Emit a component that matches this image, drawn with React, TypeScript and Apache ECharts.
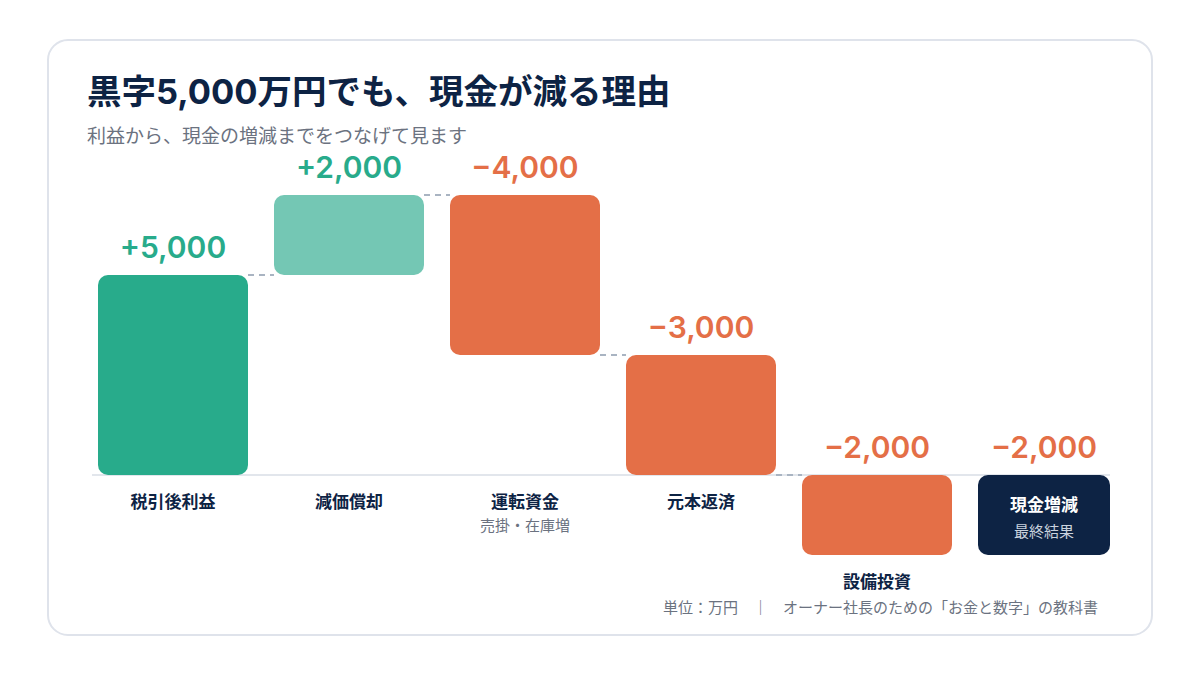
import React, { useEffect, useRef } from "react";
import * as echarts from "echarts";

const categories = ["税引後利益", "減価償却", "運転資金", "元本返済", "設備投資", "現金増減"];
const subLabels = ["", "", "売掛・在庫増", "", "", "最終結果"];
const deltas = [5000, 2000, -4000, -3000, -2000, -2000];
const isTotal = [false, false, false, false, false, true];
const valueLabels = ["+5,000", "+2,000", "−4,000", "−3,000", "−2,000", "−2,000"];

const NAVY = "#0D2344";
const FONT = "Inter, 'Noto Sans CJK JP', sans-serif";
const JP = "'Noto Sans CJK JP', Inter, sans-serif";

function buildRows() {
  const rows: number[][] = [];
  let cum = 0;
  deltas.forEach((d, i) => {
    if (isTotal[i]) {
      rows.push([i, 0, cum]);
    } else {
      rows.push([i, cum, cum + d]);
      cum += d;
    }
  });
  return rows;
}

function barColor(i: number) {
  if (isTotal[i]) return NAVY;
  if (deltas[i] < 0) return "#E46F47";
  return i === 0 ? "#28AB8B" : "#74C7B4";
}

export default function App() {
  const ref = useRef<HTMLDivElement>(null);
  useEffect(() => {
    if (!ref.current) return;
    const chart = echarts.init(ref.current, null, { renderer: "svg" });
    const rows = buildRows();
    const BW = 150;
    const TW = 132;
    const renderItem = (params: any, api: any) => {
      const i = params.dataIndex;
      const start = api.value(1);
      const end = api.value(2);
      const [cx, yStart] = api.coord([i, start]);
      const yEnd = api.coord([i, end])[1];
      const y0 = api.coord([i, 0])[1];
      const x = cx - BW / 2;
      const w = isTotal[i] ? TW : BW;
      const top = Math.min(yStart, yEnd);
      const bottom = Math.max(yStart, yEnd);
      const children: any[] = [];
      if (i === 0) {
        const xr = api.coord([categories.length - 1, 0])[0] - BW / 2 + TW;
        children.push({
          type: "line",
          shape: { x1: x - 6, y1: y0, x2: xr, y2: y0 },
          style: { stroke: "#D9DEE6", lineWidth: 1.5 },
        });
      }
      children.push({
        type: "rect",
        shape: { x, y: top, width: w, height: bottom - top, r: 10 },
        style: { fill: barColor(i) },
      });
      children.push({
        type: "text",
        style: {
          text: valueLabels[i],
          x: x + w / 2,
          y: top - 28,
          align: "center",
          verticalAlign: "middle",
          fill: deltas[i] < 0 ? "#E46F47" : "#28AB8B",
          fontSize: 30,
          fontWeight: 600,
          fontFamily: FONT,
        },
      });
      if (isTotal[i]) {
        children.push({
          type: "text",
          style: {
            text: categories[i], x: x + w / 2, y: top + 28, align: "center", verticalAlign: "middle",
            fill: "#FFFFFF", fontSize: 17, fontWeight: 700, fontFamily: JP,
          },
        });
        children.push({
          type: "text",
          style: {
            text: subLabels[i], x: x + w / 2, y: top + 55, align: "center", verticalAlign: "middle",
            fill: "#C9D2DE", fontSize: 15, fontWeight: 400, fontFamily: JP,
          },
        });
      } else {
        const ly = Math.max(y0, bottom) + 25;
        children.push({
          type: "text",
          style: {
            text: categories[i], x: x + w / 2, y: ly, align: "center", verticalAlign: "middle",
            fill: NAVY, fontSize: 17, fontWeight: 700, fontFamily: JP,
          },
        });
        if (subLabels[i]) {
          children.push({
            type: "text",
            style: {
              text: subLabels[i], x: x + w / 2, y: ly + 24, align: "center", verticalAlign: "middle",
              fill: "#6B7280", fontSize: 15, fontWeight: 400, fontFamily: JP,
            },
          });
        }
        if (i + 1 < categories.length && !isTotal[i + 1]) {
          const nx = api.coord([i + 1, end])[0] - BW / 2;
          children.push({
            type: "line",
            shape: { x1: x + w, y1: yEnd, x2: nx, y2: yEnd },
            style: { stroke: "#A9B4C2", lineWidth: 2, lineDash: [6, 5] },
          });
        }
      }
      return { type: "group", children };
    };

    chart.setOption({
      animation: false,
      backgroundColor: "#FFFFFF",
      grid: { left: 85, width: 1056, top: 155, height: 440 },
      xAxis: { type: "category", data: categories, show: false },
      yAxis: { type: "value", min: -3000, max: 8000, show: false },
      graphic: [
        {
          type: "rect",
          z: -10,
          shape: { x: 48, y: 40, width: 1104, height: 595, r: 20 },
          style: { fill: "#FFFFFF", stroke: "#DFE3EB", lineWidth: 2 },
        },
        {
          type: "text",
          x: 87,
          y: 91,
          style: {
            text: "黒字5,000万円でも、現金が減る理由",
            fill: NAVY, fontSize: 34.5, fontWeight: 700, fontFamily: FONT, verticalAlign: "middle",
          },
        },
        {
          type: "text",
          x: 87,
          y: 134,
          style: {
            text: "利益から、現金の増減までをつなげて見ます",
            fill: "#6B7280", fontSize: 19, fontWeight: 400, fontFamily: JP, verticalAlign: "middle",
          },
        },
        {
          type: "text",
          x: 1098,
          y: 606,
          style: {
            text: "単位：万円　｜　オーナー社長のための「お金と数字」の教科書",
            fill: "#6B7280", fontSize: 15, fontWeight: 400, fontFamily: JP, align: "right", verticalAlign: "middle",
          },
        },
      ],
      series: [
        {
          type: "custom",
          renderItem,
          clip: false,
          encode: { x: 0, y: [1, 2] },
          data: rows,
        },
      ],
    });
    return () => chart.dispose();
  }, []);
  return (
    <div
      ref={ref}
      style={{ position: "absolute", left: 0, top: 0, width: 1200, height: 675 }}
    />
  );
}
